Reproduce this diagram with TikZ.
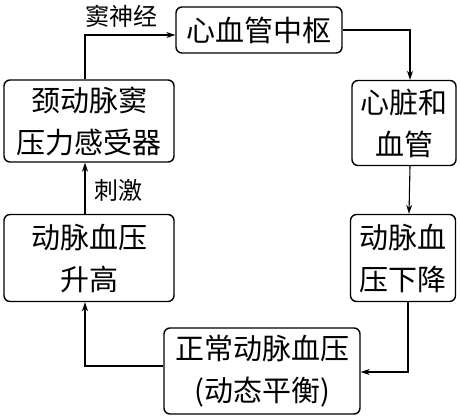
\documentclass[tikz,border=0pt]{standalone}
\usepackage{fontspec}
\setmainfont{Noto Sans CJK SC}
\usetikzlibrary{arrows.meta}
\begin{document}
\begin{tikzpicture}[x=1pt,y=-1pt,
  box/.style={draw,line width=1.4pt,rounded corners=6pt,align=center,inner sep=0pt,
    font=\fontsize{29}{42}\selectfont},
  arr/.style={line width=1.1pt,-{Stealth[length=9pt,width=6pt]}},
  lab/.style={font=\fontsize{24}{28}\selectfont,inner sep=0pt}]
\useasboundingbox (0,0) rectangle (460,416);
\node[box,minimum width=166pt,minimum height=46pt] (top) at (259,30) {心血管中枢};
\node[box,minimum width=170pt,minimum height=82pt] (ltop) at (89,121) {颈动脉窦\\压力感受器};
\node[box,minimum width=104pt,minimum height=85pt] (rtop) at (404,123) {心脏和\\血管};
\node[box,minimum width=170pt,minimum height=87pt] (lbot) at (89,258) {动脉血压\\升高};
\node[box,minimum width=105pt,minimum height=87pt] (rbot) at (403,258) {动脉血\\压下降};
\node[box,minimum width=196pt,minimum height=86pt] (bot) at (262,371) {正常动脉血压\\(动态平衡)};
\draw[arr] ([xshift=-4pt]ltop.north) |- ([yshift=-5pt]top.west);
\draw[arr] (top.east) -| ([xshift=6pt]rtop.north);
\draw[arr] ([xshift=6pt]rtop.south) -- ([xshift=6pt]rbot.north);
\draw[arr] ([xshift=5pt]rbot.south) |- ([yshift=-1pt]bot.east);
\draw[arr] ([yshift=5pt]bot.west) -| ([xshift=-4pt]lbot.south);
\draw[arr] ([xshift=-4pt]lbot.north) -- ([xshift=-4pt]ltop.south);
\node[lab] (l1) at (121,16) {窦神经};
\node[lab] (l2) at (118,190) {刺激};
\end{tikzpicture}
\end{document}
